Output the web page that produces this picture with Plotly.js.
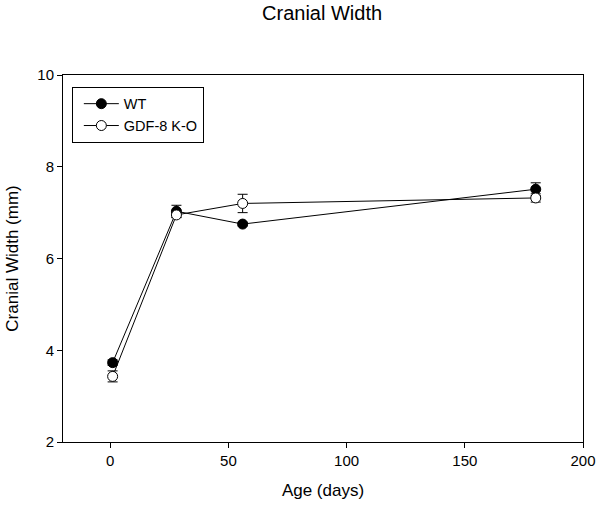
<!DOCTYPE html>
<html>
<head>
<meta charset="utf-8">
<script src="https://cdn.plot.ly/plotly-3.0.1.min.js"></script>
<style>html,body{margin:0;padding:0;background:#fff;}#chart{width:602px;height:507px;}</style>
</head>
<body>
<div id="chart"></div>
<script>
const ages = [1, 28, 56, 180];
const wtMean = [3.73, 7.03, 6.75, 7.51];
const wtErr = [0.06, 0.13, 0.04, 0.14];
const koMean = [3.43, 6.95, 7.20, 7.32];
const koErr = [0.12, 0.06, 0.20, 0.09];
const seriesNames = ['WT', 'GDF-8 K-O'];
const xTicks = [0, 50, 100, 150, 200];
const yTicks = [2, 4, 6, 8, 10];

const font = 'Liberation Sans, Arial, sans-serif';

const traces = [
  {
    x: ages, y: wtMean, name: seriesNames[0], type: 'scatter', mode: 'lines+markers',
    line: {color: '#000', width: 1},
    marker: {symbol: 'circle', size: 10, color: '#000', line: {color: '#000', width: 1}},
    error_y: {type: 'data', array: wtErr, visible: true, color: '#000', thickness: 1, width: 5}
  },
  {
    x: ages, y: koMean, name: seriesNames[1], type: 'scatter', mode: 'lines+markers',
    line: {color: '#000', width: 1},
    marker: {symbol: 'circle', size: 10, color: '#fff', line: {color: '#000', width: 1}},
    error_y: {type: 'data', array: koErr, visible: true, color: '#000', thickness: 1, width: 5}
  }
];

const layout = {
  width: 602, height: 507,
  margin: {l: 63, r: 19, t: 75, b: 65},
  paper_bgcolor: '#fff', plot_bgcolor: '#fff',
  font: {family: font, color: '#000', size: 15},
  title: {text: 'Cranial Width', font: {family: font, size: 20, color: '#000'}, x: 0.535, xanchor: 'center', y: 0.974, yanchor: 'middle'},
  showlegend: true,
  legend: {
    x: 0.017, y: 0.968, xanchor: 'left', yanchor: 'top',
    bordercolor: '#000', borderwidth: 1, bgcolor: '#fff',
    font: {family: font, size: 14.5, color: '#000'},
    tracegroupgap: 0, indentation: 6, itemwidth: 35
  },
  xaxis: {
    range: [-20, 200], tickvals: xTicks, ticktext: xTicks.map(String),
    showgrid: false, zeroline: false,
    showline: true, linecolor: '#000', linewidth: 1, mirror: true,
    ticks: 'outside', ticklen: 5, tickcolor: '#000', tickwidth: 1,
    tickfont: {family: font, size: 15, color: '#000'},
    title: {text: 'Age (days)', font: {family: font, size: 17, color: '#000'}, standoff: 16}
  },
  yaxis: {
    range: [2, 10], tickvals: yTicks, ticktext: yTicks.map(String),
    showgrid: false, zeroline: false,
    showline: true, linecolor: '#000', linewidth: 1, mirror: true,
    ticks: 'outside', ticklen: 5, tickcolor: '#000', tickwidth: 1,
    tickfont: {family: font, size: 15, color: '#000'},
    title: {text: 'Cranial Width (mm)', font: {family: font, size: 17, color: '#000'}, standoff: 14}
  }
};

Plotly.newPlot('chart', traces, layout, {displayModeBar: false, staticPlot: true});
</script>
</body>
</html>
